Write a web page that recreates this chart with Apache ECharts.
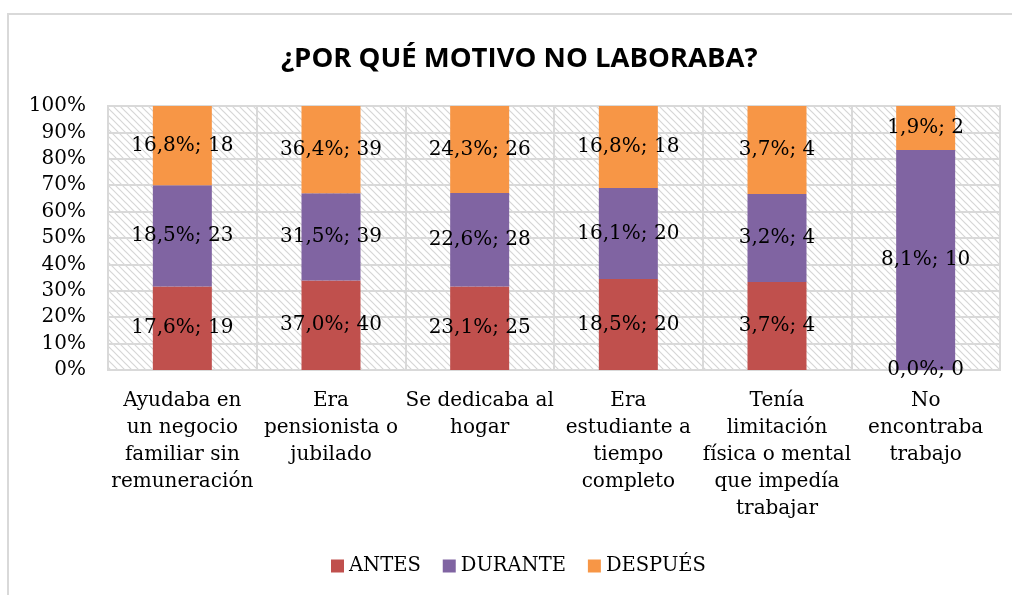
<!DOCTYPE html>
<html>
<head>
<meta charset="utf-8">
<script src="https://cdn.jsdelivr.net/npm/echarts@6/dist/echarts.min.js"></script>
<style>
  html, body { margin: 0; padding: 0; background: #fff; }
  #main { width: 1012px; height: 595px; }
</style>
</head>
<body>
<div id="main"></div>
<script>
var categorias = [
    'Ayudaba en\nun negocio\nfamiliar sin\nremuneración',
    'Era\npensionista o\njubilado',
    'Se dedicaba al\nhogar',
    'Era\nestudiante a\ntiempo\ncompleto',
    'Tenía\nlimitación\nfísica o mental\nque impedía\ntrabajar',
    'No\nencontraba\ntrabajo'
];
var antes = [19, 40, 25, 20, 4, 0];
var durante = [23, 39, 28, 20, 4, 10];
var despues = [18, 39, 26, 18, 4, 2];
var yTicks = [0, 10, 20, 30, 40, 50, 60, 70, 80, 90, 100];

(function() {
    var myChart = echarts.init(document.getElementById('main'));

    // fondo rayado del area de trazado
    var tile = document.createElement('canvas');
    tile.width = 7;
    tile.height = 7;
    var c = tile.getContext('2d');
    c.fillStyle = '#ffffff';
    c.fillRect(0, 0, 7, 7);
    c.strokeStyle = '#d6d6d6';
    c.lineWidth = 1.2;
    c.beginPath();
    c.moveTo(-1, -1); c.lineTo(8, 8);
    c.moveTo(-1, 6); c.lineTo(1, 8);
    c.moveTo(6, -1); c.lineTo(8, 1);
    c.stroke();

    function suma(arr) {
        return arr.reduce(function(a, b) { return a + b; }, 0);
    }
    var totalCat = categorias.map(function(_, i) { return antes[i] + durante[i] + despues[i]; });

    function porCategoria(arr) {
        return arr.map(function(v, i) { return totalCat[i] ? v / totalCat[i] * 100 : 0; });
    }

    function etiqueta(arr) {
        var tot = suma(arr);
        return function(p) {
            var n = arr[p.dataIndex];
            return (n / tot * 100).toFixed(1).replace('.', ',') + '%; ' + n;
        };
    }

    var serif = 'DejaVu Serif';
    var gris = '#d9d9d9';

    function serie(nombre, arr, color) {
        return {
            name: nombre,
            type: 'bar',
            stack: 'total',
            barWidth: 59,
            data: porCategoria(arr),
            itemStyle: { color: color },
            label: {
                show: true,
                position: 'inside',
                color: '#000',
                fontFamily: serif,
                fontSize: 20,
                formatter: etiqueta(arr)
            }
        };
    }

    option = {
        animation: false,
        backgroundColor: '#fff',
        title: {
            text: '¿POR QUÉ MOTIVO NO LABORABA?',
            left: 276,
            top: 40,
            textStyle: {
                fontFamily: 'Open Sans',
                fontWeight: 'bold',
                fontSize: 27.5,
                color: '#000'
            }
        },
        legend: {
            bottom: 14,
            left: 326,
            itemWidth: 13,
            itemHeight: 13,
            itemGap: 22,
            icon: 'rect',
            textStyle: { fontFamily: serif, fontSize: 19.5, color: '#000' },
            data: ['ANTES', 'DURANTE', 'DESPUÉS']
        },
        grid: {
            left: 108,
            right: 12,
            top: 106,
            bottom: 225,
            show: true,
            backgroundColor: { image: tile, repeat: 'repeat' },
            borderColor: gris,
            borderWidth: 2
        },
        graphic: [{
            type: 'rect',
            z: -1,
            shape: { x: 8, y: 14, width: 1100, height: 700 },
            style: { fill: 'none', stroke: gris, lineWidth: 2 }
        }],
        xAxis: {
            type: 'category',
            data: categorias,
            axisLine: { lineStyle: { color: gris, width: 2 } },
            axisTick: { show: false },
            splitLine: { show: true, lineStyle: { color: gris, width: 2 } },
            axisLabel: {
                interval: 0,
                margin: 17,
                color: '#000',
                fontFamily: serif,
                fontSize: 20,
                lineHeight: 27
            }
        },
        yAxis: {
            type: 'value',
            min: yTicks[0],
            max: yTicks[yTicks.length - 1],
            interval: 10,
            axisLine: { show: false },
            axisTick: { show: false },
            splitLine: { lineStyle: { color: gris, width: 2 } },
            axisLabel: {
                margin: 22,
                color: '#000',
                fontFamily: serif,
                fontSize: 20,
                formatter: '{value}%'
            }
        },
        series: [
            serie('ANTES', antes, '#c0504d'),
            serie('DURANTE', durante, '#8064a2'),
            serie('DESPUÉS', despues, '#f79646')
        ]
    };

    myChart.setOption(option);
})();
</script>
</body>
</html>
